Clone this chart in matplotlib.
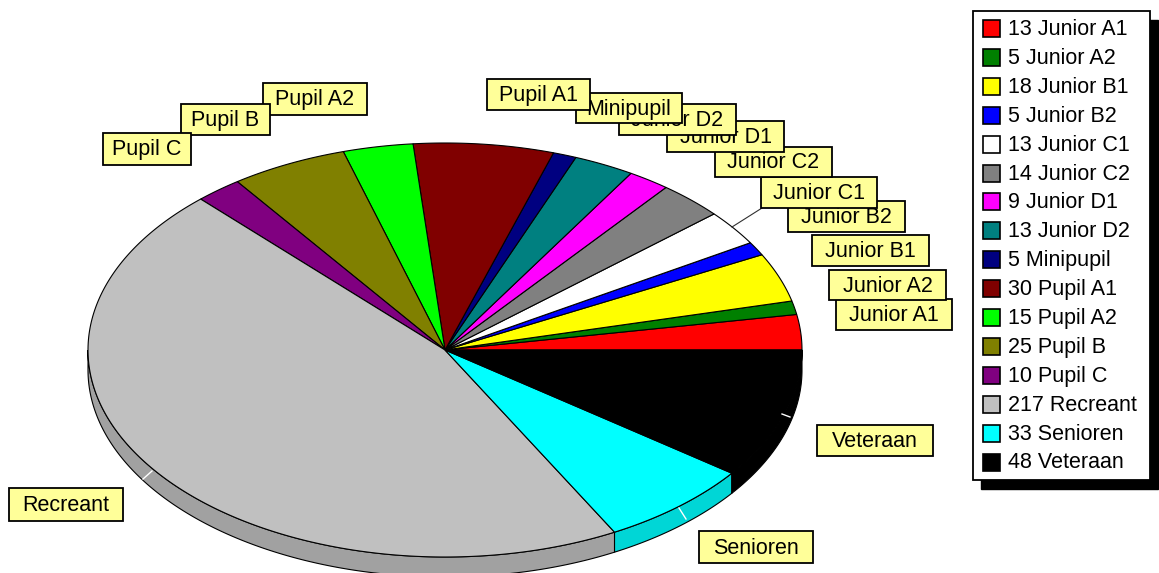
import numpy as np
import matplotlib
matplotlib.use("Agg")
import matplotlib.pyplot as plt
from matplotlib.patches import Polygon, Rectangle
from matplotlib.colors import to_rgb

# data
names = ["Junior A1", "Junior A2", "Junior B1", "Junior B2", "Junior C1", "Junior C2",
         "Junior D1", "Junior D2", "Minipupil", "Pupil A1", "Pupil A2", "Pupil B",
         "Pupil C", "Recreant", "Senioren", "Veteraan"]
counts = [13, 5, 18, 5, 13, 14, 9, 13, 5, 30, 15, 25, 10, 217, 33, 48]
colors = ["#ff0000", "#008000", "#ffff00", "#0000ff", "#ffffff", "#808080",
          "#ff00ff", "#008080", "#000080", "#800000", "#00ff00", "#808000",
          "#800080", "#c0c0c0", "#00ffff", "#000000"]

# layout: label boxes (left, top, right, bottom) in pixels
label_boxes = [(836, 299, 952, 330), (829, 270, 946, 300), (812, 235, 929, 266),
               (788, 201, 905, 232), (761, 177, 877, 208), (715, 147, 832, 177),
               (667, 121, 784, 152), (619, 104, 736, 135), (576, 93, 682, 123),
               (487, 79, 590, 110), (263, 83, 367, 115), (181, 104, 270, 135),
               (103, 133, 191, 165), (9, 488, 123, 521), (699, 531, 813, 563),
               (817, 425, 933, 456)]

W, H = 1159, 573
cx, cy, rx, ry, depth = 445, 350, 357, 207, 20
font = "Liberation Sans"
fs = 15.5

fig = plt.figure(figsize=(W / 100, H / 100), dpi=100)
ax = fig.add_axes([0, 0, 1, 1])
ax.set_xlim(0, W)
ax.set_ylim(H, 0)
ax.axis("off")


def ell(t, dy=0):
    return np.column_stack([cx + rx * np.cos(t), cy - ry * np.sin(t) + dy])


total = sum(counts)
edges = np.concatenate([[0], np.cumsum(counts)]) / total * 2 * np.pi

# side of the pie (front half only)
for i, col in enumerate(colors):
    lo = max(edges[i], np.pi)
    hi = min(edges[i + 1], 2 * np.pi)
    if hi <= lo:
        continue
    ts = np.linspace(lo, hi, 200)
    pts = np.vstack([ell(ts), ell(ts[::-1], depth)])
    side = tuple(c * 0.84 for c in to_rgb(col))
    ax.add_patch(Polygon(pts, closed=True, fc=side, ec="black", lw=0.8, zorder=1))

# top of the pie
for i, col in enumerate(colors):
    ts = np.linspace(edges[i], edges[i + 1], 200)
    pts = np.vstack([[cx, cy], ell(ts)])
    ax.add_patch(Polygon(pts, closed=True, fc=col, ec="black", lw=0.8, zorder=2))

# small leader marks
ax.plot([762, 732], [208, 227], color="#303030", lw=0.8, zorder=3)
for xs, ys in [([143, 152], [479, 471]), ([679, 686], [508, 519]), ([782, 790], [414, 417])]:
    ax.plot(xs, ys, color="white", lw=1, zorder=3)

# labels
for k, (name, (l, t, r, b)) in enumerate(zip(names, label_boxes)):
    z = 4 + k * 0.01
    ax.add_patch(Rectangle((l, t), r - l, b - t, fc="#ffff99", ec="black", lw=1.3, zorder=z))
    ax.text((l + r) / 2, (t + b) / 2 + 1, name, ha="center", va="center",
            fontsize=fs, family=font, zorder=z + 0.005)

# legend
lx0, ly0, lx1, ly1 = 973, 11, 1150, 480
ax.add_patch(Rectangle((lx0 + 8, ly0 + 9), lx1 - lx0, ly1 - ly0, fc="black", ec="black", zorder=5))
ax.add_patch(Rectangle((lx0, ly0), lx1 - lx0, ly1 - ly0, fc="white", ec="black", lw=1.3, zorder=6))
row0, step = 28.5, 28.9
for k, (name, n, col) in enumerate(zip(names, counts, colors)):
    y = row0 + k * step
    ax.add_patch(Rectangle((983, y - 8.5), 17, 17, fc=col, ec="black", lw=1.2, zorder=7))
    ax.text(1008, y + 1, f"{n} {name}", ha="left", va="center",
            fontsize=fs, family=font, zorder=7)

fig.savefig("out.png", dpi=100)
